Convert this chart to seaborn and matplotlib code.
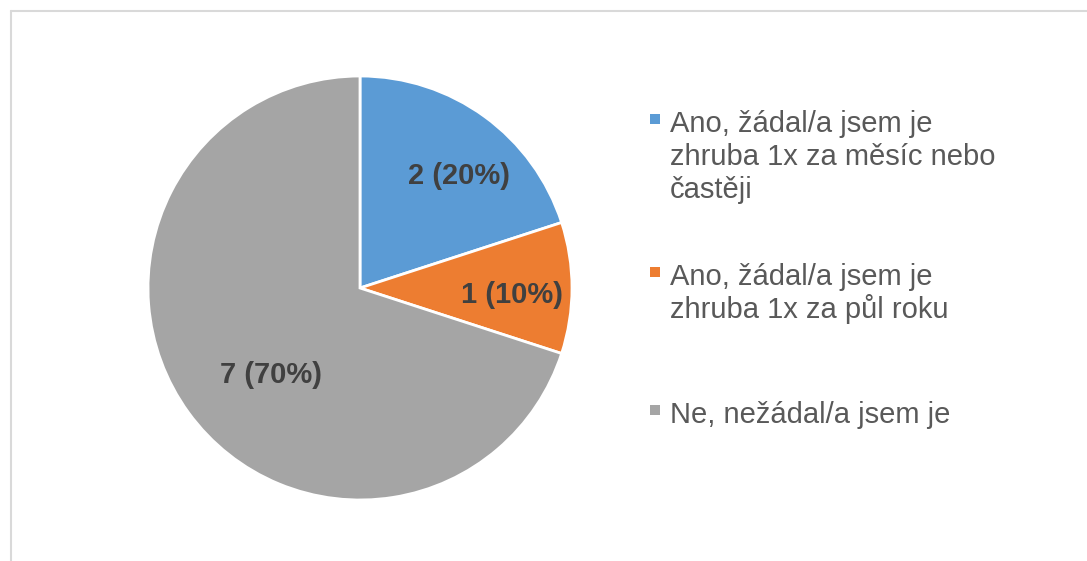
import matplotlib
matplotlib.use("Agg")
import matplotlib.pyplot as plt
from matplotlib.patches import Rectangle
from matplotlib.lines import Line2D
import seaborn as sns

# data
answers = ['Ano, žádal/a jsem je\nzhruba 1x za měsíc nebo\nčastěji',
           'Ano, žádal/a jsem je\nzhruba 1x za půl roku',
           'Ne, nežádal/a jsem je']
counts = [2, 1, 7]
colors = ['#5B9BD5', '#ED7D31', '#A5A5A5']

sns.set_style('white')
plt.rcParams['font.family'] = ['Liberation Sans', 'DejaVu Sans']

W, H = 1087, 561
fig = plt.figure(figsize=(W / 100, H / 100), dpi=100)

# pie axes: centre (360, 288) px, radius 212 px
cx, cy, r = 360, 288, 212
ax = fig.add_axes([(cx - r) / W, (H - cy - r) / H, 2 * r / W, 2 * r / H])

total = sum(counts)
wedges, texts, autotexts = ax.pie(
    counts, colors=colors, startangle=90, counterclock=False,
    wedgeprops=dict(edgecolor='white', linewidth=2),
    autopct=lambda p: f'{round(p * total / 100)} ({p:.0f}%)',
    pctdistance=0.7,
    textprops=dict(fontsize=21, fontweight='bold', color='#404040'))
ax.set_xlim(-1, 1)
ax.set_ylim(-1, 1)
ax.set_aspect('equal')

# "best fit" label spots like Excel does
label_pos = [(0.467, 0.528), (0.717, -0.033), (-0.420, -0.410)]
for t, pos in zip(autotexts, label_pos):
    t.set_position(pos)

# legend drawn by hand so the marker sits on the first line
baselines = [132, 285, 423]
line_step = 33
for lab, col, yb in zip(answers, colors, baselines):
    for i, line in enumerate(lab.split('\n')):
        fig.text(670 / W, 1 - (yb + i * line_step) / H, line, fontsize=21,
                 color='#595959', va='baseline', ha='left')
    fig.add_artist(Rectangle((650 / W, 1 - (yb - 8) / H), 10 / W, 10 / H,
                             transform=fig.transFigure, color=col, lw=0))

# chart area frame
fig.add_artist(Line2D([10.5 / W, 10.5 / W], [0, 1 - 10.5 / H],
                      transform=fig.transFigure, color='#D9D9D9', lw=1.5))
fig.add_artist(Line2D([10.5 / W, 1], [1 - 10.5 / H, 1 - 10.5 / H],
                      transform=fig.transFigure, color='#D9D9D9', lw=1.5))

fig.savefig('out.png', dpi=100)
